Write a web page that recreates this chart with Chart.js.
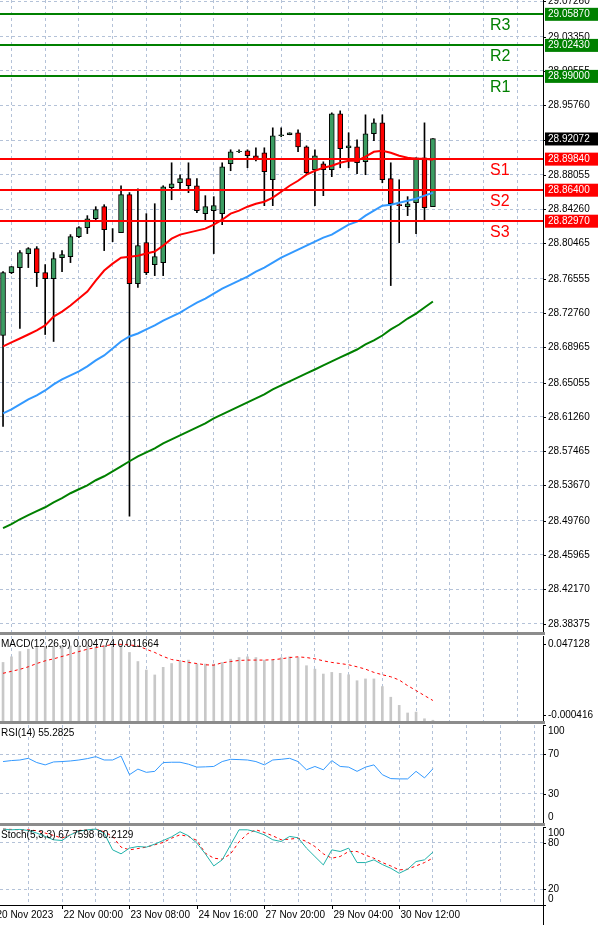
<!DOCTYPE html>
<html><head><meta charset="utf-8">
<script src="https://cdn.jsdelivr.net/npm/chart.js@4.4.0/dist/chart.umd.min.js"></script>
<style>
body{margin:0;background:#fff;width:600px;height:925px;overflow:hidden;position:relative}
.pane{position:absolute;left:0;width:600px}
.sep{position:absolute;left:0;width:545px;height:3px;background:#8c8c8c}
</style></head><body>
<div class="pane" style="top:0;height:632px"><canvas id="main"></canvas></div>
<div class="sep" style="top:632px"></div>
<div class="pane" style="top:636px;height:85px"><canvas id="macd"></canvas></div>
<div class="sep" style="top:721px"></div>
<div class="pane" style="top:725px;height:98px"><canvas id="rsi"></canvas></div>
<div class="sep" style="top:823px"></div>
<div class="pane" style="top:827px;height:98px"><canvas id="stoch"></canvas></div>
<script>
// 4h candles, index 0..51
const opens =[28.7026,28.7723,28.7778,28.7933,28.7988,28.7723,28.7656,28.7888,28.7899,28.8120,28.8220,28.8319,28.8452,28.8209,28.8165,28.8585,28.7601,28.8054,28.7811,28.7833,28.8662,28.8717,28.8762,28.8684,28.8375,28.8408,28.8375,28.8927,28.9060,28.9071,28.9016,28.9049,28.8750,28.9237,28.9248,28.9270,28.9115,28.8861,28.8927,28.8861,28.9480,28.9104,28.9115,28.8949,28.9259,28.9380,28.8762,28.8474,28.8452,28.8496,28.8994,28.8452];
const closes=[28.7723,28.7789,28.7944,28.7988,28.7723,28.7656,28.7877,28.7921,28.8120,28.8220,28.8319,28.8419,28.8198,28.8209,28.8585,28.7601,28.8021,28.7723,28.7899,28.8673,28.8706,28.8762,28.8684,28.8408,28.8452,28.8463,28.8894,28.9060,28.9065,28.9016,28.8983,28.8839,28.9237,28.9248,28.9270,28.9115,28.8828,28.9016,28.8861,28.9480,28.9093,28.9126,28.8938,28.9259,28.9380,28.8750,28.8485,28.8463,28.8485,28.8994,28.8441,28.9207];
const highs =[28.7734,28.7789,28.7966,28.7999,28.8010,28.7811,28.7944,28.7966,28.8143,28.8231,28.8353,28.8452,28.8474,28.8209,28.8684,28.8607,28.8651,28.8375,28.8485,28.8684,28.8938,28.8806,28.8938,28.8762,28.8574,28.8563,28.8938,28.9082,28.9082,28.9082,28.9104,28.9104,28.9325,28.9325,28.9270,28.9303,28.9126,28.9082,28.8949,28.9491,28.9513,28.9270,28.9193,28.9469,28.9425,28.9469,28.8938,28.8750,28.8563,28.8994,28.9380,28.9207];
const lows  =[28.6020,28.7711,28.7104,28.7778,28.7568,28.7037,28.6960,28.7734,28.7833,28.8109,28.8154,28.8308,28.7966,28.8065,28.8165,28.5026,28.7557,28.7700,28.7689,28.7689,28.8529,28.8640,28.8607,28.8386,28.8286,28.7933,28.8253,28.8850,28.9049,28.8883,28.8960,28.8463,28.8463,28.9226,28.9248,28.9060,28.8806,28.8463,28.8574,28.8784,28.8883,28.8883,28.8817,28.8806,28.9182,28.8717,28.7579,28.8054,28.8353,28.8154,28.8286,28.8452];
const maRed  =[28.6905,28.6949,28.6993,28.7037,28.7082,28.7137,28.7236,28.7291,28.7358,28.7435,28.7513,28.7634,28.7745,28.7822,28.7888,28.7899,28.7910,28.7933,28.7955,28.8021,28.8098,28.8143,28.8165,28.8187,28.8209,28.8253,28.8308,28.8375,28.8408,28.8452,28.8485,28.8507,28.8552,28.8618,28.8684,28.8739,28.8806,28.8850,28.8883,28.8905,28.8938,28.8960,28.8960,28.9005,28.9060,28.9071,28.9049,28.9016,28.8994,28.8983,28.8983,28.8972];
const maBlue =[28.6164,28.6208,28.6264,28.6319,28.6363,28.6418,28.6485,28.6540,28.6584,28.6628,28.6684,28.6750,28.6805,28.6882,28.6960,28.7015,28.7048,28.7093,28.7137,28.7192,28.7236,28.7280,28.7336,28.7391,28.7435,28.7490,28.7546,28.7590,28.7634,28.7678,28.7734,28.7778,28.7833,28.7888,28.7933,28.7977,28.8021,28.8065,28.8109,28.8143,28.8198,28.8253,28.8286,28.8353,28.8408,28.8463,28.8474,28.8496,28.8518,28.8540,28.8574,28.8607];
const maGreen=[28.4893,28.4937,28.4992,28.5037,28.5081,28.5125,28.5180,28.5225,28.5280,28.5324,28.5368,28.5424,28.5468,28.5523,28.5578,28.5634,28.5689,28.5733,28.5777,28.5833,28.5877,28.5921,28.5965,28.6009,28.6054,28.6109,28.6153,28.6197,28.6241,28.6286,28.6330,28.6374,28.6429,28.6474,28.6518,28.6562,28.6606,28.6650,28.6695,28.6739,28.6783,28.6827,28.6871,28.6927,28.6971,28.7026,28.7093,28.7148,28.7214,28.7269,28.7336,28.7402];
const macdHist=[0.0367,0.0398,0.0427,0.0440,0.0449,0.0453,0.0458,0.0458,0.0458,0.0458,0.0458,0.0453,0.0458,0.0458,0.0458,0.0422,0.0372,0.0325,0.0298,0.0340,0.0361,0.0376,0.0380,0.0358,0.0358,0.0358,0.0367,0.0385,0.0394,0.0398,0.0394,0.0380,0.0380,0.0394,0.0398,0.0394,0.0349,0.0330,0.0303,0.0312,0.0307,0.0299,0.0266,0.0276,0.0276,0.0234,0.0175,0.0130,0.0088,0.0093,0.0056,0.0048];
const macdSignal=[0.0307,0.0318,0.0329,0.0343,0.0361,0.0376,0.0387,0.0400,0.0413,0.0427,0.0440,0.0449,0.0458,0.0466,0.0467,0.0464,0.0458,0.0440,0.0422,0.0400,0.0383,0.0376,0.0367,0.0361,0.0354,0.0352,0.0365,0.0372,0.0378,0.0380,0.0380,0.0380,0.0382,0.0387,0.0394,0.0398,0.0394,0.0387,0.0376,0.0367,0.0361,0.0354,0.0343,0.0330,0.0312,0.0299,0.0288,0.0270,0.0239,0.0212,0.0184,0.0157];
const rsi=[62.7,63.7,64.3,66.0,61.7,59.3,62.3,62.7,63.3,64.3,65.7,67.7,64.3,64.3,68.3,49.3,55.0,51.7,52.7,61.7,62.0,62.0,60.0,57.0,57.3,57.7,62.7,65.0,64.7,64.3,62.7,59.3,64.3,65.0,66.0,62.7,54.3,57.7,54.3,63.7,57.7,57.0,52.7,57.0,59.3,49.3,45.3,45.0,45.0,52.7,46.0,55.3];
const stochMain=[97.3,96.4,96.9,95.6,92.2,87.9,83.6,82.7,90.0,94.7,96.4,97.3,92.2,70.7,65.6,72.9,75.0,74.2,78.0,82.7,87.4,93.9,88.7,79.3,65.6,50.1,57.9,77.2,96.4,96.4,93.9,90.0,83.6,81.4,87.9,86.2,72.9,62.1,51.4,70.7,68.6,72.9,54.4,54.4,57.9,51.9,47.1,40.7,45.9,55.7,57.9,67.8];
const stochSignal=[97.3,96.9,96.4,96.4,95.2,92.2,89.2,85.7,90.0,95.6,96.4,97.3,93.9,87.9,74.2,70.7,72.4,74.2,77.2,80.2,85.7,90.0,87.9,82.7,66.4,60.0,58.7,65.6,81.0,91.3,96.4,93.0,88.7,83.6,84.4,85.7,81.4,75.0,65.6,60.0,62.2,68.6,68.6,63.9,60.0,54.4,50.1,45.0,45.9,50.1,54.4,60.2];
const priceTicks=[29.07260,29.03350,28.99555,28.95760,28.91850,28.88055,28.84260,28.80465,28.76555,28.72760,28.68965,28.65055,28.61260,28.57465,28.53670,28.49760,28.45965,28.42170,28.38375];
const levels=[["R3",29.0587,"#008000"],["R2",29.0243,"#008000"],["R1",28.9900,"#008000"],["S1",28.8984,"#ff0000"],["S2",28.8640,"#ff0000"],["S3",28.8297,"#ff0000"]];
const lastPrice=28.92072;
const dateTicks=[-1,7,15,23,31,39,47];
const dateLabels=["20 Nov 2023","22 Nov 00:00","23 Nov 08:00","24 Nov 16:00","27 Nov 20:00","29 Nov 04:00","30 Nov 12:00"];
const vGrid=[3,7,11,15,19,23,27,31,35,39,43,47,51,55,59,63];

const FONT="10px 'Liberation Sans', Arial, sans-serif";
const GRID="#b4c2d8";
const pts=a=>a.map((v,i)=>({x:i,y:v}));

function xScale(){
  return {type:"linear",min:-0.36,max:64.06,offset:false,
    ticks:{display:false},border:{display:false,dash:[3,3]},
    grid:{color:GRID,tickLength:0},
    afterBuildTicks:s=>{s.ticks=vGrid.map(v=>({value:v}));},
    afterFit:s=>{s.height=0;}};
}
// y axis: grid via Chart.js, labels drawn by the axisLabels plugin so the plot area is not shrunk
function yScale(min,max,ticks,gridOn){
  return {type:"linear",position:"right",min,max,
    border:{display:false,dash:[3,3]},
    grid:{color:c=>(!gridOn||gridOn(c.tick.value))?GRID:"rgba(0,0,0,0)",tickLength:0},
    ticks:{display:false},
    afterBuildTicks:s=>{s.ticks=ticks.map(v=>({value:v}));},
    afterFit:s=>{s.width=57;}};
}
function axisLabels(ticks,texts,clamp){
  return {id:"axl",afterDraw(ch){
    const c=ch.ctx,y=ch.scales.y,a=ch.chartArea;c.save();
    c.strokeStyle="#000";c.lineWidth=1;c.beginPath();c.moveTo(a.right+0.5,0);c.lineTo(a.right+0.5,ch.height);c.stroke();
    c.font=FONT;c.fillStyle="#000";c.textBaseline="middle";
    ticks.forEach((v,k)=>{const py=Math.round(y.getPixelForValue(v))+0.5;
      c.beginPath();c.moveTo(a.right,py);c.lineTo(a.right+3,py);c.stroke();
      const ty=clamp?Math.max(a.top+6,Math.min(a.bottom-6,py)):py;
      c.fillText(texts[k],a.right+5,ty);});
    c.restore();}};
}
function title(text){
  return {id:"title",afterDraw(ch){const c=ch.ctx;c.save();c.font=FONT;c.fillStyle="#000";c.textBaseline="top";c.fillText(text,1,ch.chartArea.top+3);c.restore();}};
}
const base={responsive:true,maintainAspectRatio:false,animation:false,
  plugins:{legend:{display:false},tooltip:{enabled:false}},layout:{padding:0}};

// price pane
const levelPlugin={id:"levels",
  afterDatasetsDraw(ch){
    const c=ch.ctx,y=ch.scales.y,a=ch.chartArea;c.save();
    levels.forEach(([n,v,col])=>{const py=Math.round(y.getPixelForValue(v));
      c.strokeStyle=col;c.lineWidth=2;c.beginPath();c.moveTo(a.left,py);c.lineTo(a.right,py);c.stroke();
      c.fillStyle=col;c.font="16px 'Liberation Sans', Arial";c.textBaseline="top";c.textAlign="left";c.fillText(n,490,py+4);});
    c.restore();},
  afterDraw(ch){
    const c=ch.ctx,y=ch.scales.y,a=ch.chartArea;c.save();c.font=FONT;c.textBaseline="middle";
    const box=(v,bg,txt)=>{const py=y.getPixelForValue(v);c.fillStyle=bg;c.fillRect(a.right+2,py-6,53,13);c.fillStyle="#fff";c.fillText(txt,a.right+5,py+0.5);};
    levels.forEach(([n,v,col])=>box(v,col,v.toFixed(5)));
    box(lastPrice,"#000",lastPrice.toFixed(5));
    c.restore();}};

const up=opens.map((o,i)=>closes[i]>=o);
new Chart(document.getElementById("main"),{type:"bar",
  data:{datasets:[
    {type:"line",data:pts(maRed),borderColor:"#ff0000",borderWidth:2,pointRadius:0},
    {type:"line",data:pts(maBlue),borderColor:"#3399ff",borderWidth:2,pointRadius:0},
    {type:"line",data:pts(maGreen),borderColor:"#008000",borderWidth:2,pointRadius:0},
    {data:opens.map((o,i)=>({x:i,y:[o,closes[i]]})),grouped:false,barThickness:5,
      backgroundColor:up.map(u=>u?"#3c9c62":"#ff0000"),borderColor:"#000",borderWidth:1,borderSkipped:false},
    {data:lows.map((l,i)=>({x:i,y:[l,highs[i]]})),grouped:false,barThickness:1,backgroundColor:"#000"}
  ]},
  options:{...base,scales:{x:xScale(),y:yScale(28.3744,29.074,priceTicks)}},
  plugins:[axisLabels(priceTicks,priceTicks.map(v=>v.toFixed(5))),levelPlugin]});

// MACD
new Chart(document.getElementById("macd"),{type:"bar",
  data:{datasets:[
    {type:"line",data:pts(macdSignal),borderColor:"#ff0000",borderWidth:1,borderDash:[3,3],pointRadius:0},
    {data:pts(macdHist),barThickness:2,backgroundColor:"#c8c8c8"}]},
  options:{...base,scales:{x:xScale(),y:yScale(0.00437,0.0513,[0.0471,0.0075],()=>false)}},
  plugins:[axisLabels([0.0471,0.0075],["0.047128","-0.000416"]),title("MACD(12,26,9) 0.004774 0.011664")]});

// RSI
new Chart(document.getElementById("rsi"),{type:"line",
  data:{datasets:[{data:pts(rsi),borderColor:"#3399ff",borderWidth:1,pointRadius:0}]},
  options:{...base,scales:{x:xScale(),y:yScale(0,100,[0,30,70,100],v=>v===30||v===70)}},
  plugins:[axisLabels([100,70,30,0],["100","70","30","0"],true),title("RSI(14) 55.2825")]});

// Stochastic + date axis
const datePlugin={id:"dates",afterDraw(ch){
  const c=ch.ctx,x=ch.scales.x,a=ch.chartArea;c.save();
  c.strokeStyle="#000";c.lineWidth=1;c.beginPath();c.moveTo(a.left,a.bottom+0.5);c.lineTo(a.right,a.bottom+0.5);c.stroke();
  c.font=FONT;c.fillStyle="#000";c.textBaseline="top";
  dateTicks.forEach((t,k)=>{const px=Math.round(x.getPixelForValue(t))+0.5;
    c.beginPath();c.moveTo(px,a.bottom);c.lineTo(px,a.bottom+4);c.stroke();
    c.fillText(dateLabels[k],px+1,a.bottom+5);});
  c.restore();}};
new Chart(document.getElementById("stoch"),{type:"line",
  data:{datasets:[
    {data:pts(stochMain),borderColor:"#20b2aa",borderWidth:1,pointRadius:0},
    {data:pts(stochSignal),borderColor:"#ff0000",borderWidth:1,borderDash:[3,3],pointRadius:0}]},
  options:{...base,layout:{padding:{bottom:20}},scales:{x:xScale(),y:yScale(0,100,[0,20,80,100],v=>v===20||v===80)}},
  plugins:[axisLabels([100,80,20,0],["100","80","20","0"],true),title("Stoch(5,3,3) 67.7598 60.2129"),datePlugin]});
</script>
</body></html>
